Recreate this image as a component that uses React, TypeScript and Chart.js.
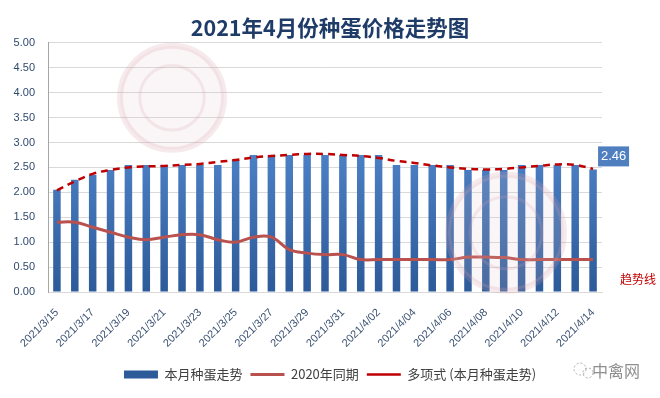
import React, { useEffect, useRef } from 'react';
import { Chart, registerables } from 'chart.js';

Chart.register(...registerables);

const chartTitle = '2021年4月份种蛋价格走势图';

const dateLabels = [
  '2021/3/15', '2021/3/16', '2021/3/17', '2021/3/18', '2021/3/19', '2021/3/20',
  '2021/3/21', '2021/3/22', '2021/3/23', '2021/3/24', '2021/3/25', '2021/3/26',
  '2021/3/27', '2021/3/28', '2021/3/29', '2021/3/30', '2021/3/31', '2021/4/01',
  '2021/4/02', '2021/4/03', '2021/4/04', '2021/4/05', '2021/4/06', '2021/4/07',
  '2021/4/08', '2021/4/09', '2021/4/10', '2021/4/11', '2021/4/12', '2021/4/13',
  '2021/4/14',
];

const currentPrices = [
  2.05, 2.25, 2.35, 2.45, 2.55, 2.55, 2.55, 2.55, 2.55, 2.55, 2.65, 2.75,
  2.75, 2.75, 2.75, 2.75, 2.75, 2.75, 2.75, 2.55, 2.55, 2.55, 2.55, 2.45,
  2.45, 2.45, 2.55, 2.55, 2.55, 2.55, 2.46,
];

const lastYearPrices = [
  1.40, 1.40, 1.30, 1.20, 1.10, 1.05, 1.10, 1.15, 1.15, 1.05, 1.00, 1.10,
  1.10, 0.85, 0.78, 0.75, 0.75, 0.65, 0.65, 0.65, 0.65, 0.65, 0.65, 0.70,
  0.70, 0.69, 0.65, 0.65, 0.65, 0.65, 0.65,
];

const trendValues = [
  2.04, 2.22, 2.37, 2.45, 2.50, 2.52, 2.53, 2.55, 2.57, 2.61, 2.65, 2.70,
  2.73, 2.75, 2.77, 2.77, 2.75, 2.73, 2.69, 2.63, 2.59, 2.54, 2.50, 2.47,
  2.46, 2.47, 2.50, 2.53, 2.56, 2.55, 2.47,
];

const seriesNames = ['本月种蛋走势', '2020年同期', '多项式 (本月种蛋走势)'];
const lastValueLabel = '2.46';
const trendNote = '趋势线';
const brandText = '中禽网';

const CJK = "'Noto Sans CJK SC', 'Noto Sans', sans-serif";
const LATIN = "'Liberation Sans', 'Noto Sans', sans-serif";

const decorPlugin = {
  id: 'decor',
  afterDatasetsDraw(chart: any) {
    const { ctx, chartArea } = chart;
    ctx.save();
    // faint circular watermarks
    const marks = [
      { x: chartArea.left + 124, y: chartArea.top + 55, r: 52 },
      { x: chartArea.left + 458, y: chartArea.top + 190, r: 58 },
    ];
    marks.forEach((m) => {
      ctx.beginPath();
      ctx.arc(m.x, m.y, m.r, 0, Math.PI * 2);
      ctx.fillStyle = 'rgba(225, 190, 200, 0.16)';
      ctx.fill();
      ctx.lineWidth = 6;
      ctx.strokeStyle = 'rgba(215, 160, 175, 0.22)';
      ctx.stroke();
      ctx.beginPath();
      ctx.arc(m.x, m.y, m.r * 0.62, 0, Math.PI * 2);
      ctx.lineWidth = 3;
      ctx.strokeStyle = 'rgba(215, 160, 175, 0.2)';
      ctx.stroke();
    });

    // value label on the last bar
    const meta = chart.getDatasetMeta(2);
    const bar = meta.data[meta.data.length - 1];
    if (bar) {
      const bx = bar.x + 5;
      const by = bar.y - 23;
      ctx.fillStyle = '#4f7fbe';
      ctx.fillRect(bx, by, 31, 20);
      ctx.fillStyle = '#ffffff';
      ctx.font = `13px ${LATIN}`;
      ctx.textAlign = 'center';
      ctx.textBaseline = 'middle';
      ctx.fillText(lastValueLabel, bx + 15.5, by + 10.5);
    }

    // trend note
    ctx.fillStyle = '#c00000';
    ctx.font = `12px ${CJK}`;
    ctx.textAlign = 'center';
    ctx.textBaseline = 'middle';
    ctx.fillText(trendNote, chartArea.right + 36, chartArea.bottom - 13);

    // brand mark bottom right
    ctx.fillStyle = '#8f8f8f';
    ctx.font = `16px ${CJK}`;
    ctx.fillText(brandText, chartArea.right + 14, chartArea.bottom + 79);
    ctx.strokeStyle = '#a8a8a8';
    ctx.lineWidth = 1;
    ctx.setLineDash([2, 2]);
    ctx.beginPath();
    ctx.arc(chartArea.right - 22, chartArea.bottom + 77, 6, 0, Math.PI * 2);
    ctx.stroke();
    ctx.beginPath();
    ctx.arc(chartArea.right - 14, chartArea.bottom + 81, 5, 0, Math.PI * 2);
    ctx.stroke();
    ctx.restore();
  },
};

export default function App() {
  const canvasRef = useRef<HTMLCanvasElement | null>(null);

  useEffect(() => {
    const canvas = canvasRef.current;
    if (!canvas) return;

    const barFill = (c: any) => {
      const chart = c.chart;
      const area = chart.chartArea;
      if (!area) return '#3f72b8';
      const g = chart.ctx.createLinearGradient(0, area.top + 100, 0, area.bottom);
      g.addColorStop(0, '#4e83c8');
      g.addColorStop(1, '#2d5a99');
      return g;
    };

    const chart = new Chart(canvas, {
      type: 'bar',
      data: {
        labels: dateLabels,
        datasets: [
          {
            type: 'line',
            label: seriesNames[1],
            data: lastYearPrices,
            borderColor: '#b9524e',
            backgroundColor: '#b9524e',
            borderWidth: 3,
            pointRadius: 0,
            pointStyle: 'line',
            tension: 0.4,
            order: 1,
          } as any,
          {
            type: 'line',
            label: seriesNames[2],
            data: trendValues,
            borderColor: '#c00000',
            backgroundColor: '#c00000',
            borderWidth: 2.5,
            borderDash: [7, 5],
            pointRadius: 0,
            pointStyle: 'line',
            tension: 0.4,
            order: 0,
          } as any,
          {
            type: 'bar',
            label: seriesNames[0],
            data: currentPrices,
            backgroundColor: barFill,
            borderWidth: 0,
            barPercentage: 0.42,
            categoryPercentage: 1,
            pointStyle: 'rect',
            order: 5,
          } as any,
        ],
      },
      options: {
        responsive: true,
        maintainAspectRatio: false,
        animation: false,
        layout: { padding: { left: 0, right: 0, top: 0, bottom: 7 } },
        plugins: {
          title: {
            display: true,
            text: chartTitle,
            color: '#1f3c68',
            font: { family: CJK, size: 21.5, weight: 'bold' },
            padding: { top: 15, bottom: 2 },
          },
          legend: {
            display: true,
            position: 'bottom',
            labels: {
              usePointStyle: true,
              pointStyleWidth: 34,
              boxHeight: 8,
              padding: 8,
              color: '#404040',
              font: { family: CJK, size: 13 },
              sort: (a: any, b: any) => {
                const rank = (i: number) => (i === 2 ? 0 : i === 0 ? 1 : 2);
                return rank(a.datasetIndex) - rank(b.datasetIndex);
              },
            },
          },
          tooltip: { enabled: false },
        },
        scales: {
          x: {
            offset: true,
            grid: { display: false, drawTicks: false },
            border: { display: true, color: '#d9d9d9' },
            ticks: {
              autoSkip: false,
              maxRotation: 45,
              minRotation: 45,
              padding: 14,
              color: '#3b5272',
              font: { family: LATIN, size: 11 },
              callback: (_v: any, i: number) => (i % 2 === 0 ? dateLabels[i] : ''),
            },
            afterFit: (s: any) => {
              s.height = 68;
            },
          },
          y: {
            min: 0,
            max: 5,
            grid: { color: '#d9d9d9', drawTicks: false },
            border: { display: true, color: '#a6a6a6' },
            ticks: {
              stepSize: 0.5,
              padding: 13,
              color: '#2f4a6e',
              font: { family: LATIN, size: 11 },
              callback: (v: any) => Number(v).toFixed(2),
            },
            afterFit: (s: any) => {
              s.width = 48;
            },
          },
          yRight: {
            position: 'right',
            min: 0,
            max: 5,
            grid: { display: false, drawTicks: false },
            border: { display: false },
            ticks: { display: false },
            afterFit: (s: any) => {
              s.width = 58;
            },
          },
        },
      } as any,
      plugins: [decorPlugin],
    });

    return () => chart.destroy();
  }, []);

  return (
    <div style={{ position: 'absolute', left: 0, top: 0, width: 660, height: 398, background: '#ffffff' }}>
      <canvas ref={canvasRef} />
    </div>
  );
}
